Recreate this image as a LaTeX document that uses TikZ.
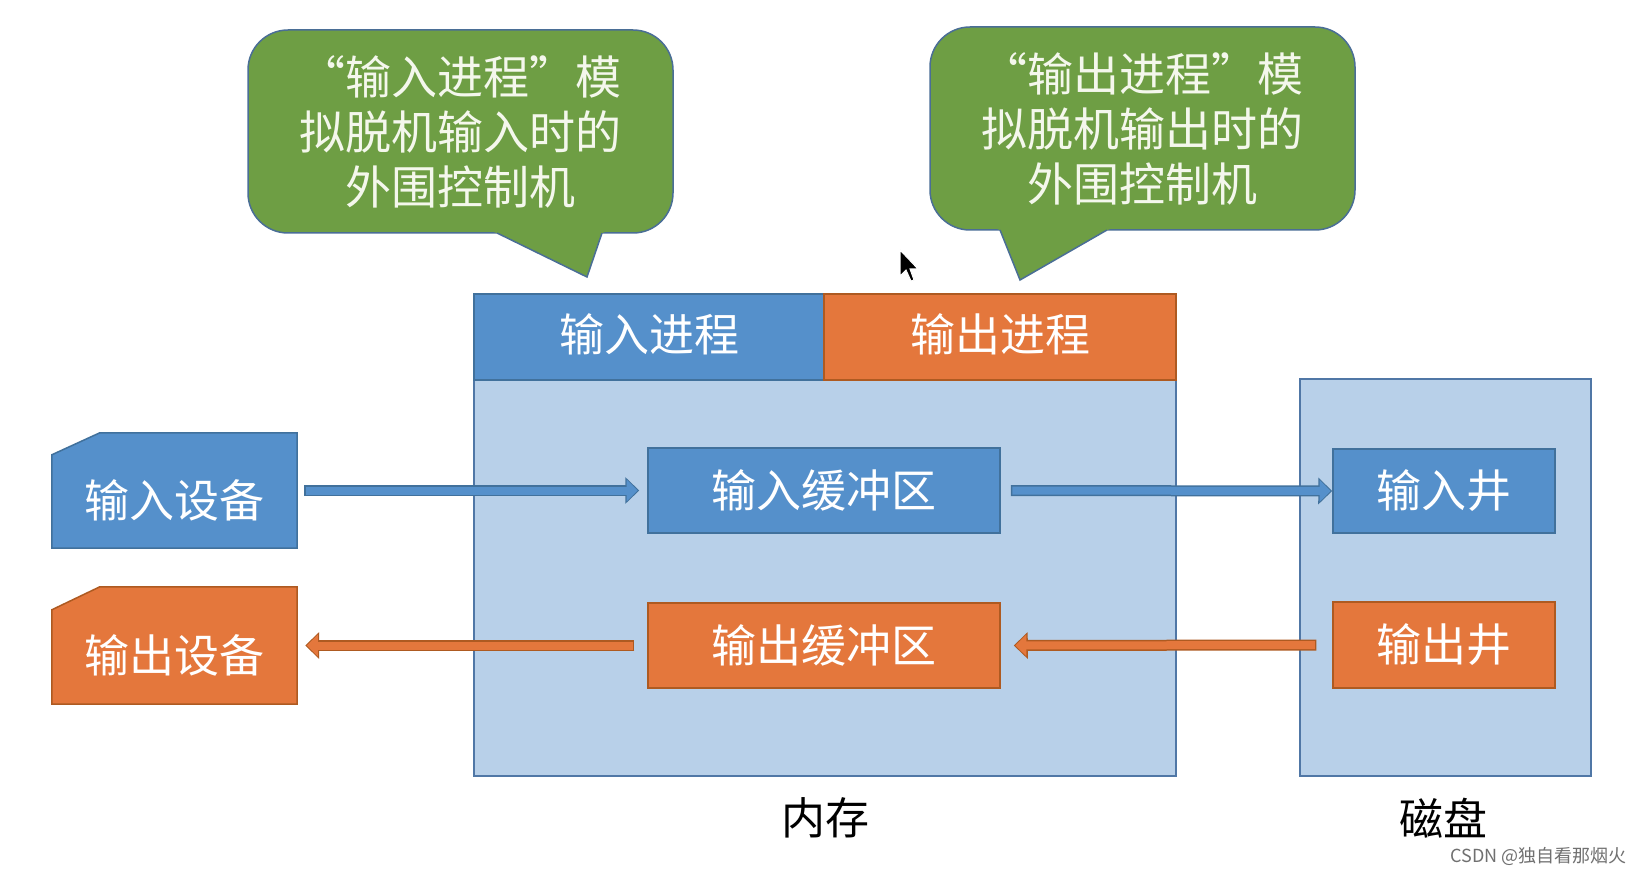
\documentclass[tikz,border=0pt]{standalone}
\usepackage{fontspec}
\setmainfont{Noto Sans CJK SC}
\usetikzlibrary{arrows.meta,backgrounds}
\definecolor{bfill}{HTML}{5590CB}
\definecolor{bline}{HTML}{41719C}
\definecolor{ofill}{HTML}{E4773C}
\definecolor{oline}{HTML}{AE5A21}
\definecolor{mfill}{HTML}{B8D0E9}
\definecolor{mline}{HTML}{5077A6}
\definecolor{gfill}{HTML}{6E9E44}
\definecolor{gline}{HTML}{4A6E96}
\definecolor{ctext}{HTML}{F4F7EC}
\definecolor{wmgray}{HTML}{707070}
\begin{document}
\begin{tikzpicture}[x=1pt,y=-1pt,
 bigtxt/.style={font=\fontsize{45}{54}\selectfont, text=white},
 bluebox/.style={bigtxt, draw=bline, fill=bfill, line width=1.5pt, inner sep=0pt},
 orangebox/.style={bigtxt, draw=oline, fill=ofill, line width=1.5pt, inner sep=0pt},
 membox/.style={draw=mline, fill=mfill, line width=1.5pt, inner sep=0pt},
 devbox/.style={bigtxt, inner sep=0pt},
 callout/.style={font=\fontsize{46}{55}\selectfont, text=ctext, draw=gline, fill=gfill,
   line width=1.5pt, rounded corners=40pt, align=center, inner sep=0pt},
 barrow/.style={line width=8pt, draw=bfill, -{Triangle[length=11pt,width=21pt]},
   shorten >=1.6pt, shorten <=1.5pt,
   preaction={draw=bline, line width=11pt, -{Triangle[length=14pt,width=26pt]}, shorten >=0pt, shorten <=0pt}},
 oarrow/.style={line width=8pt, draw=ofill, -{Triangle[length=11pt,width=21pt]},
   shorten >=1.6pt, shorten <=1.5pt,
   preaction={draw=oline, line width=11pt, -{Triangle[length=14pt,width=26pt]}, shorten >=0pt, shorten <=0pt}},
 label/.style={font=\fontsize{44}{44}\selectfont, text=black},
]
\useasboundingbox (0,0) rectangle (1644,874);
\begin{scope}[on background layer]
\fill[white] (0,0) rectangle (1644,874);
\end{scope}

% callouts
\node[callout, minimum width=425pt, minimum height=203pt] (c1) at (460.5,131.5)
  {“输入进程”模\\拟脱机输入时的\\外围控制机};
\fill[gfill] (490,231) -- (497,233) -- (587,277) -- (602,233) -- (608,231) -- cycle;
\draw[gline, line width=1.5pt] (497,233) -- (587,277) -- (602,233);

\node[callout, minimum width=425pt, minimum height=203pt] (c2) at (1142.5,128.5)
  {“输出进程”模\\拟脱机输出时的\\外围控制机};
\fill[gfill] (994,228) -- (1000,230) -- (1020,280) -- (1107,230) -- (1114,228) -- cycle;
\draw[gline, line width=1.5pt] (1000,230) -- (1020,280) -- (1107,230);

% memory
\node[membox, minimum width=702pt, minimum height=396pt] (mem) at (825,578) {};
\node[bluebox, minimum width=350pt, minimum height=86pt] (inproc) at (649,337) {\raisebox{3pt}[\height][\depth]{输入进程}};
\node[orangebox, minimum width=352pt, minimum height=86pt] (outproc) at (1000,337) {\raisebox{3pt}[\height][\depth]{输出进程}};
\node[bluebox, minimum width=352pt, minimum height=85pt] (inbuf) at (824,490.5) {输入缓冲区};
\node[orangebox, minimum width=352pt, minimum height=85pt] (outbuf) at (824,645.5) {输出缓冲区};

% disk
\node[membox, minimum width=291pt, minimum height=397pt] (disk) at (1445.5,577.5) {};
\node[bluebox, minimum width=222pt, minimum height=84pt] (inwell) at (1444,491) {输入井};
\node[orangebox, minimum width=222pt, minimum height=86pt] (outwell) at (1444,645) {输出井};

% devices
\node[devbox, minimum width=245pt, minimum height=115pt] (indev) at (174.5,490.5) {\raisebox{-10pt}[\height][\depth]{输入设备}};
\node[devbox, minimum width=245pt, minimum height=117pt] (outdev) at (174.5,645.5) {\raisebox{-10pt}[\height][\depth]{输出设备}};
\begin{scope}[on background layer]
\draw[draw=bline, fill=bfill, line width=1.5pt] (indev.south west) -- ([yshift=-22pt]indev.north west)
  -- ([xshift=48pt]indev.north west) -- (indev.north east) -- (indev.south east) -- cycle;
\draw[draw=oline, fill=ofill, line width=1.5pt] (outdev.south west) -- ([yshift=-23pt]outdev.north west)
  -- ([xshift=48pt]outdev.north west) -- (outdev.north east) -- (outdev.south east) -- cycle;
\end{scope}

% arrows
\draw[barrow] ([xshift=7pt]indev.east) -- ([xshift=-8pt]inbuf.west);
\draw[barrow] ([xshift=10pt]inbuf.east) -- (inwell.west);
\draw[oarrow] ([xshift=-16pt]outwell.west) -- ([xshift=13pt]outbuf.east);
\draw[oarrow] ([xshift=-13pt]outbuf.west) -- ([xshift=8pt]outdev.east);

% labels
\node[label] (memlabel) at (825,818) {内存};
\node[label] (disklabel) at (1443,818) {磁盘};
\node[anchor=east, text=wmgray, font=\fontsize{18}{18}\selectfont, inner sep=0pt] (wm) at (1627,856) {CSDN @独自看那烟火};

% mouse cursor
\filldraw[fill=black, draw=white, line width=1pt, line join=miter] (900,250) -- ++(0,26) -- ++(6,-6)
  -- ++(5,11) -- ++(3,-1) -- ++(-4,-11) -- ++(8,0) -- cycle;
\end{tikzpicture}
\end{document}
